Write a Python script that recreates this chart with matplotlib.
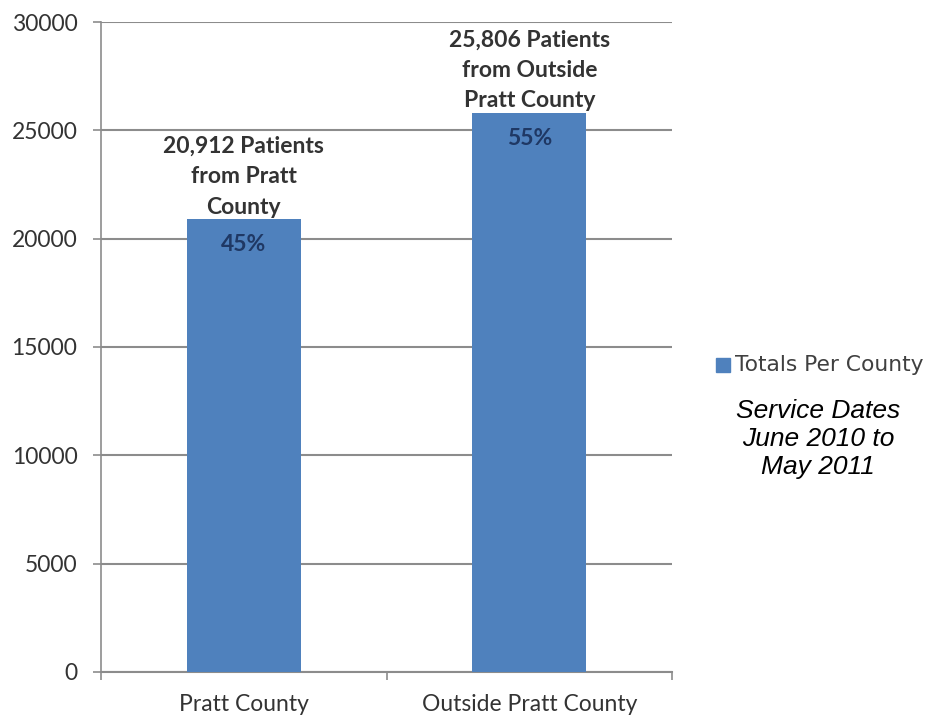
import matplotlib.pyplot as plt

categories = ["Pratt County", "Outside Pratt County"]
totals = [20912, 25806]
labels = ["20,912 Patients\nfrom Pratt\nCounty", "25,806 Patients\nfrom Outside\nPratt County"]
percents = ["45%", "55%"]
yticks = [0, 5000, 10000, 15000, 20000, 25000, 30000]

bar_color = "#4F81BD"
txt_font = ["Lato", "DejaVu Sans"]

fig = plt.figure(figsize=(9.3, 7.17), dpi=100)
ax = fig.add_axes([0.1086, 0.0628, 0.614, 0.9065])

x = range(len(categories))
ax.bar(x, totals, width=0.4, color=bar_color, zorder=3)

ax.set_xlim(-0.5, 1.5)
ax.set_ylim(0, 30000)
ax.set_yticks(yticks)
ax.set_yticklabels([str(v) for v in yticks], fontsize=16.5, color="#333333", family=txt_font)
ax.yaxis.grid(True, color="#8c8c8c", linewidth=1.5, zorder=0)

# category boundaries get the tick marks, names sit in the middle
ax.set_xticks([-0.5, 0.5, 1.5])
ax.set_xticklabels([])
ax.set_xticks(list(x), minor=True)
ax.set_xticklabels(categories, minor=True, fontsize=16.5, color="#333333", family=txt_font)
ax.tick_params(axis="x", which="major", length=6, color="#8c8c8c", width=1.2)
ax.tick_params(axis="x", which="minor", length=0, pad=16)
ax.tick_params(axis="y", length=6, color="#8c8c8c", width=1.2, pad=11)

for s in ["top", "right"]:
    ax.spines[s].set_visible(False)
ax.spines["left"].set_color("#8c8c8c")
ax.spines["bottom"].set_color("#8c8c8c")
ax.spines["left"].set_linewidth(1.2)
ax.spines["bottom"].set_linewidth(1.5)

for i, v in enumerate(totals):
    ax.annotate(labels[i], (i, v), xytext=(0, 1), textcoords="offset points",
                ha="center", va="bottom", fontsize=16.5, fontweight="bold",
                color="#333333", family=txt_font, linespacing=1.55, zorder=4)
    ax.annotate(percents[i], (i, v), xytext=(0, -11), textcoords="offset points",
                ha="center", va="top", fontsize=16.5, fontweight="bold",
                color="#1F3864", family=txt_font, zorder=4)

# legend + note on the right
fig.patches.append(plt.Rectangle((716 / 930, 1 - 372 / 717), 14 / 930, 14 / 717,
                                 transform=fig.transFigure, color=bar_color))
fig.text(735 / 930, 1 - 365 / 717, "Totals Per County", fontsize=15.7,
         color="#404040", family="DejaVu Sans", va="center", ha="left")
fig.text(818 / 930, 1 - 439 / 717, "Service Dates\nJune 2010 to\nMay 2011",
         fontsize=19, style="italic", family="Liberation Sans", color="black",
         ha="center", va="center", linespacing=1.2)

fig.savefig("out.png", dpi=100)
